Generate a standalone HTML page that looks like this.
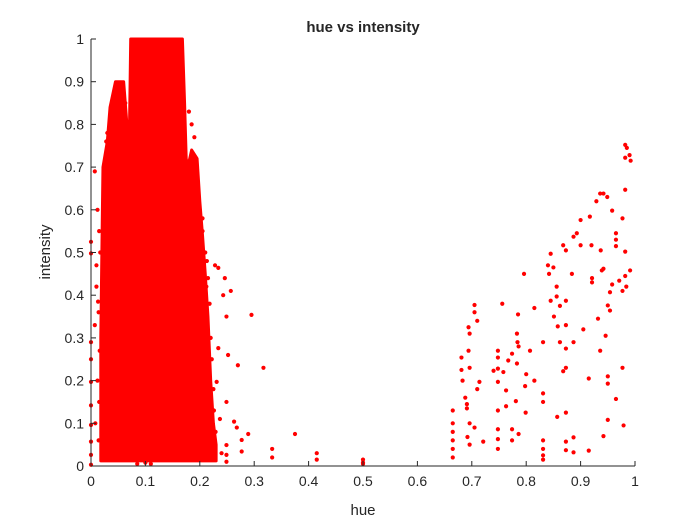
<!DOCTYPE html>
<html><head><meta charset="utf-8"><style>
html,body{margin:0;padding:0;background:#fff;width:700px;height:525px;overflow:hidden}
svg text{font-family:"Liberation Sans",Arial,sans-serif;fill:#262626}
</style></head><body>
<svg id="chart" width="700" height="525" viewBox="0 0 700 525" xmlns="http://www.w3.org/2000/svg">
<rect width="700" height="525" fill="#fff"/>
<g id="marks"></g>
<g id="axes"></g>
<text x="363" y="32" text-anchor="middle" font-size="15" font-weight="bold">hue vs intensity</text>
<text x="363" y="515" text-anchor="middle" font-size="15">hue</text>
<text transform="translate(50,252) rotate(-90)" text-anchor="middle" font-size="15">intensity</text>
</svg>
<script>
// dense cluster envelope (upper bound of the solid region)
const denseHue = [0.018,0.022,0.03,0.035,0.045,0.06,0.066,0.07,0.073,0.09,0.12,0.15,0.168,0.172,0.175,0.178,0.185,0.195,0.2,0.205,0.21,0.215,0.22,0.225,0.23];
const denseTop = [0.3,0.7,0.76,0.84,0.9,0.9,0.8,0.72,1,1,1,1,1,0.85,0.72,0.7,0.74,0.72,0.62,0.54,0.45,0.35,0.2,0.1,0.05];
const denseBottom = 0.012;
// sparse scatter points
const ptHue = [0,0,0,0,0,0,0,0,0,0,0.007,0.017,0.01,0.013,0.007,
0.228,0.234,0.246,0.243,0.257,0.249,0.295,0.317,0.234,0.252,0.27,0.231,0.249,0.237,0.263,0.268,0.289,0.277,0.249,0.277,0.249,0.249,
0.333,0.333,0.375,0.415,0.415,0.5,0.5,0.5,
0.665,0.665,0.665,0.665,0.665,0.665,0.681,0.681,0.683,0.688,0.691,0.691,0.696,0.692,0.696,0.694,0.696,0.694,0.696,0.705,0.705,0.71,0.705,0.714,0.721,0.71,
0.74,0.748,0.748,0.748,0.748,0.748,0.748,0.748,0.748,0.756,0.758,0.763,0.763,0.767,0.774,0.774,0.774,0.781,0.783,0.784,0.786,0.785,0.783,0.786,0.796,0.798,0.799,0.8,0.807,0.815,0.815,0.831,0.831,0.831,0.831,0.831,0.831,0.831,
0.84,0.842,0.845,0.845,0.85,0.851,0.856,0.856,0.857,0.858,0.862,0.862,0.868,0.873,0.873,0.873,0.873,0.873,0.868,0.873,0.873,0.873,0.884,0.887,0.887,0.887,0.887,0.893,0.9,0.9,0.905,0.915,0.915,0.917,0.92,0.921,0.921,0.929,0.932,0.936,0.942,0.936,0.937,0.939,0.942,0.942,0.946,0.949,0.95,0.95,0.95,0.95,0.954,0.954,0.958,0.958,0.965,0.965,0.965,0.965,0.971,0.977,0.977,0.977,0.979,0.982,0.985,0.982,0.982,0.982,0.982,0.984,0.99,0.992,0.991,
0.012,0.015,0.01,0.014,0.016,0.012,0.015,0.008,0.014,0.03,0.028,0.063,0.068,0.07,0.069,0.2,0.205,0.21,0.212,0.215,0.218,0.22,0.222,0.225,0.226,0.229,0.205,0.213,0.21,0.185,0.18,0.19,0.192,0.085,0.1,0.11,0.24];
const ptInt = [0.525,0.498,0.29,0.25,0.197,0.142,0.096,0.057,0.026,0.003,0.69,0.5,0.47,0.385,0.33,
0.47,0.464,0.44,0.40,0.41,0.35,0.354,0.23,0.276,0.26,0.236,0.197,0.15,0.11,0.104,0.09,0.075,0.061,0.049,0.034,0.026,0.01,
0.04,0.02,0.075,0.03,0.015,0.015,0.008,0.005,
0.02,0.04,0.06,0.08,0.1,0.13,0.254,0.225,0.2,0.16,0.145,0.135,0.1,0.068,0.05,0.325,0.31,0.27,0.23,0.377,0.36,0.34,0.09,0.197,0.057,0.18,
0.223,0.27,0.254,0.228,0.197,0.13,0.086,0.063,0.04,0.38,0.22,0.177,0.14,0.247,0.263,0.086,0.06,0.152,0.31,0.29,0.28,0.355,0.24,0.075,0.45,0.187,0.125,0.215,0.27,0.37,0.2,0.29,0.17,0.15,0.06,0.04,0.025,0.015,
0.47,0.45,0.497,0.387,0.465,0.35,0.42,0.397,0.115,0.327,0.375,0.29,0.517,0.505,0.387,0.33,0.275,0.23,0.222,0.125,0.057,0.037,0.45,0.29,0.067,0.032,0.537,0.545,0.576,0.517,0.32,0.205,0.036,0.584,0.517,0.44,0.43,0.62,0.345,0.638,0.638,0.27,0.505,0.458,0.462,0.07,0.305,0.63,0.376,0.21,0.193,0.108,0.407,0.364,0.598,0.425,0.545,0.53,0.515,0.157,0.434,0.58,0.41,0.23,0.095,0.752,0.745,0.722,0.647,0.502,0.445,0.42,0.728,0.715,0.458,
0.6,0.55,0.42,0.36,0.27,0.2,0.15,0.1,0.06,0.78,0.76,0.85,0.78,0.74,0.65,0.6,0.58,0.5,0.42,0.44,0.38,0.3,0.25,0.18,0.13,0.08,0.55,0.48,0.35,0.8,0.83,0.77,0.7,0.005,0.008,0.005,0.03];
const xTicks = [0,0.1,0.2,0.3,0.4,0.5,0.6,0.7,0.8,0.9,1];
const yTicks = [0,0.1,0.2,0.3,0.4,0.5,0.6,0.7,0.8,0.9,1];

const X0=91,X1=635,Y0=466,Y1=39;
const sx=v=>X0+v*(X1-X0), sy=v=>Y0-v*(Y0-Y1);
const NS="http://www.w3.org/2000/svg";
const marks=document.getElementById('marks'), axes=document.getElementById('axes');
function mk(tag,attrs,parent){const e=document.createElementNS(NS,tag);for(const k in attrs)e.setAttribute(k,attrs[k]);parent.appendChild(e);return e;}

let d='M'+sx(denseHue[0])+','+sy(denseBottom);
for(let i=0;i<denseHue.length;i++) d+=' L'+sx(denseHue[i])+','+sy(denseTop[i]);
d+=' L'+sx(denseHue[denseHue.length-1])+','+sy(denseBottom)+' Z';
const poly=mk('path',{d:d,fill:'#ff0000',stroke:'#ff0000','stroke-width':3,'stroke-linejoin':'round'},marks);



for(let i=0;i<ptHue.length;i++){
  const c=mk('circle',{cx:sx(ptHue[i]),cy:sy(ptInt[i]),r:2.1,fill:'#ff0000'},marks);
  
  
}

mk('line',{x1:X0,y1:Y0,x2:X1,y2:Y0,stroke:'#262626','stroke-width':1},axes);
mk('line',{x1:X0,y1:Y0,x2:X0,y2:Y1,stroke:'#262626','stroke-width':1},axes);
xTicks.forEach(t=>{
  const x=sx(t);
  mk('line',{x1:x,y1:Y0,x2:x,y2:Y0-5,stroke:'#262626'},axes);
  const tx=mk('text',{x:x,y:Y0+20,'text-anchor':'middle','font-size':14},axes);
  tx.textContent=String(t);
  
  
});
yTicks.forEach(t=>{
  const y=sy(t);
  mk('line',{x1:X0,y1:y,x2:X0+5,y2:y,stroke:'#262626'},axes);
  const tx=mk('text',{x:X0-7,y:y+5,'text-anchor':'end','font-size':14},axes);
  tx.textContent=String(t);
  
  
});
</script>
</body></html>
